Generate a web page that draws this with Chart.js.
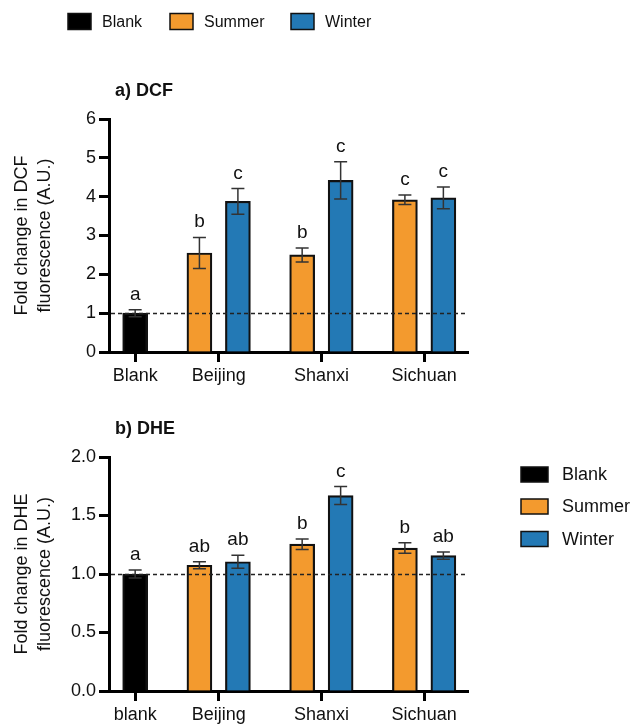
<!DOCTYPE html>
<html>
<head>
<meta charset="utf-8">
<script src="https://cdn.jsdelivr.net/npm/chart.js@4.4.1/dist/chart.umd.min.js"></script>
<style>
  html, body { margin: 0; padding: 0; background: #fff; }
  #wrap { position: relative; width: 635px; height: 724px; overflow: hidden; }
  .box { position: absolute; left: 0; width: 635px; }
</style>
</head>
<body>
<div id="wrap">
  <div class="box" style="top:0;height:400px"><canvas id="dcf"></canvas></div>
  <div class="box" style="top:400px;height:324px"><canvas id="dhe"></canvas></div>
</div>
<script>
  // values
  const cities = ['Beijing', 'Shanxi', 'Sichuan'];
  const seasons = ['Blank', 'Summer', 'Winter'];
  const dcfTicks = [0, 1, 2, 3, 4, 5, 6];
  const dheTicks = [0, 0.5, 1.0, 1.5, 2.0];

  const dcfBlank = [1.00];
  const dcfBlankErr = [0.09];
  const dcfBlankSig = ['a'];
  const dcfSummer = [2.55, 2.50, 3.92];
  const dcfSummerErr = [0.40, 0.18, 0.12];
  const dcfSummerSig = ['b', 'b', 'c'];
  const dcfWinter = [3.88, 4.42, 3.97];
  const dcfWinterErr = [0.33, 0.48, 0.28];
  const dcfWinterSig = ['c', 'c', 'c'];

  const dheBlank = [1.00];
  const dheBlankErr = [0.035];
  const dheBlankSig = ['a'];
  const dheSummer = [1.075, 1.255, 1.222];
  const dheSummerErr = [0.03, 0.045, 0.045];
  const dheSummerSig = ['ab', 'b', 'b'];
  const dheWinter = [1.105, 1.67, 1.157];
  const dheWinterErr = [0.055, 0.077, 0.031];
  const dheWinterSig = ['ab', 'c', 'ab'];

  const FONT = "'Liberation Sans', Arial, Helvetica, sans-serif";
  const colors = ['#000000', '#F39A2E', '#2379B5'];

  // bar slots on a linear axis: one unit per bar, wider gap between groups
  const GAP = 1.67;
  const summerX = cities.map((c, i) => GAP + i * (1 + GAP));
  const winterX = summerX.map(x => x + 1);
  const tickX = [0].concat(summerX.map(x => x + 0.5));

  function makeSets(blank, blankErr, blankSig, summer, summerErr, summerSig, winter, winterErr, winterSig) {
    return [
      { label: seasons[0], data: blank.map(v => ({ x: 0, y: v })), err: blankErr, sig: blankSig },
      { label: seasons[1], data: summer.map((v, i) => ({ x: summerX[i], y: v })), err: summerErr, sig: summerSig },
      { label: seasons[2], data: winter.map((v, i) => ({ x: winterX[i], y: v })), err: winterErr, sig: winterSig }
    ].map((d, k) => Object.assign(d, {
      backgroundColor: colors[k],
      borderColor: '#111',
      borderWidth: 2.2,
      barThickness: 25,
      grouped: false
    }));
  }

  const extras = {
    id: 'extras',
    afterDatasetsDraw(chart, args, opts) {
      const ctx = chart.ctx, area = chart.chartArea, ys = chart.scales.y;
      // reference line at 1
      ctx.save();
      ctx.strokeStyle = '#222';
      ctx.lineWidth = 1.3;
      ctx.setLineDash([4, 3]);
      const y1 = Math.round(ys.getPixelForValue(1)) + 0.5;
      ctx.beginPath();
      ctx.moveTo(area.left + 2, y1);
      ctx.lineTo(area.right, y1);
      ctx.stroke();
      ctx.setLineDash([]);
      // error bars + significance letters
      chart.data.datasets.forEach((ds, di) => {
        const meta = chart.getDatasetMeta(di);
        meta.data.forEach((el, i) => {
          const v = ds.data[i].y, e = ds.err[i];
          const top = ys.getPixelForValue(v + e), bot = ys.getPixelForValue(v - e);
          ctx.strokeStyle = '#333';
          ctx.lineWidth = 1.5;
          ctx.beginPath();
          ctx.moveTo(el.x, top); ctx.lineTo(el.x, bot);
          ctx.moveTo(el.x - 6.5, top); ctx.lineTo(el.x + 6.5, top);
          ctx.moveTo(el.x - 6.5, bot); ctx.lineTo(el.x + 6.5, bot);
          ctx.stroke();
          ctx.fillStyle = '#111';
          ctx.font = '19px ' + FONT;
          ctx.textAlign = 'center';
          ctx.textBaseline = 'alphabetic';
          ctx.fillText(ds.sig[i], el.x, top - 10);
        });
      });
      ctx.restore();
    },
    afterDraw(chart, args, opts) {
      const ctx = chart.ctx, area = chart.chartArea;
      ctx.save();
      ctx.fillStyle = '#111';
      ctx.font = 'bold 18px ' + FONT;
      ctx.textAlign = 'left';
      ctx.textBaseline = 'alphabetic';
      ctx.fillText(opts.title, 115, area.top - 23);
      // legend
      const L = opts.legend;
      chart.data.datasets.forEach((ds, k) => {
        const bx = L.x[k], by = L.y[k];
        ctx.fillStyle = ds.backgroundColor;
        ctx.fillRect(bx, by - L.h / 2, L.w, L.h);
        ctx.strokeStyle = '#111';
        ctx.lineWidth = 1.5;
        ctx.strokeRect(bx, by - L.h / 2, L.w, L.h);
        ctx.fillStyle = '#111';
        ctx.font = L.size + 'px ' + FONT;
        ctx.textBaseline = 'middle';
        ctx.fillText(ds.label, bx + L.w + L.gap, by + 1);
      });
      ctx.restore();
    }
  };

  function makeChart(id, cfg) {
    const axisFont = { family: FONT, size: 18 };
    return new Chart(document.getElementById(id), {
      type: 'bar',
      data: { datasets: cfg.sets },
      plugins: [extras],
      options: {
        responsive: true,
        maintainAspectRatio: false,
        animation: false,
        layout: { padding: { top: cfg.top, right: 167, left: 0, bottom: 0 } },
        plugins: {
          legend: { display: false },
          tooltip: { enabled: false },
          extras: { title: cfg.title, legend: cfg.legend }
        },
        scales: {
          x: {
            type: 'linear',
            min: -0.68,
            max: 8.65,
            offset: false,
            afterBuildTicks: s => { s.ticks = tickX.map(v => ({ value: v })); },
            afterFit: s => { s.height = cfg.bottom; },
            ticks: {
              autoSkip: false, maxRotation: 0, padding: 3, color: '#111', font: axisFont,
              callback: (v, i) => cfg.groups[i]
            },
            grid: { display: true, drawOnChartArea: false, drawTicks: true, tickLength: 10, tickWidth: 3, tickColor: '#000', offset: false },
            border: { display: true, width: 3, color: '#000' }
          },
          y: {
            min: 0,
            max: cfg.yTicks[cfg.yTicks.length - 1],
            afterBuildTicks: s => { s.ticks = cfg.yTicks.map(v => ({ value: v })); },
            afterFit: s => { s.width = 109; },
            ticks: { padding: 3, color: '#111', font: axisFont, callback: cfg.fmt },
            title: {
              display: true, text: cfg.yTitle, color: '#111',
              font: { family: FONT, size: 18, lineHeight: '23px' },
              padding: { top: 11, bottom: 0 }
            },
            grid: { display: true, drawOnChartArea: false, drawTicks: true, tickLength: 10, tickWidth: 3, tickColor: '#000' },
            border: { display: true, width: 3, color: '#000' }
          }
        }
      }
    });
  }

  makeChart('dcf', {
    sets: makeSets(dcfBlank, dcfBlankErr, dcfBlankSig, dcfSummer, dcfSummerErr, dcfSummerSig, dcfWinter, dcfWinterErr, dcfWinterSig),
    groups: ['Blank'].concat(cities),
    yTicks: dcfTicks,
    fmt: v => String(v),
    yTitle: ['Fold change in DCF', 'fluorescence (A.U.)'],
    title: 'a) DCF',
    top: 119,
    bottom: 48,
    legend: { x: [68, 170, 291], y: [21.5, 21.5, 21.5], w: 23, h: 16, gap: 11, size: 16 }
  });

  makeChart('dhe', {
    sets: makeSets(dheBlank, dheBlankErr, dheBlankSig, dheSummer, dheSummerErr, dheSummerSig, dheWinter, dheWinterErr, dheWinterSig),
    groups: ['blank'].concat(cities),
    yTicks: dheTicks,
    fmt: v => v.toFixed(1),
    yTitle: ['Fold change in DHE', 'fluorescence (A.U.)'],
    title: 'b) DHE',
    top: 57,
    bottom: 33,
    legend: { x: [521, 521, 521], y: [74.5, 106.5, 139], w: 27, h: 15, gap: 14, size: 18 }
  });
</script>
</body>
</html>
